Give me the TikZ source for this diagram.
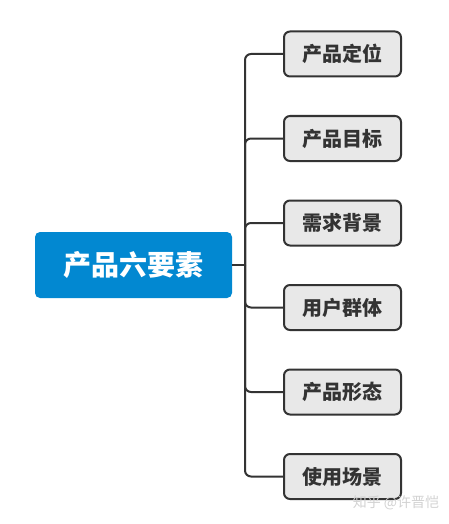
\documentclass[tikz,border=0pt]{standalone}
\usepackage{fontspec}
\newfontfamily\cjk{Noto Sans CJK SC}
\usetikzlibrary{positioning}
\definecolor{rootBlue}{RGB}{2,136,209}
\definecolor{leafGray}{RGB}{232,232,232}
\definecolor{lineDark}{RGB}{51,51,51}

\begin{document}
\begin{tikzpicture}[x=1pt, y=-1pt,
    root/.style={fill=rootBlue, rounded corners=5pt, minimum width=197pt, minimum height=66pt,
      inner sep=0pt, text=white, font=\cjk\bfseries\fontsize{28}{28}\selectfont},
    leaf/.style={draw=lineDark, line width=2pt, fill=leafGray, rounded corners=6pt,
      minimum width=117pt, minimum height=45pt, inner sep=0pt, text=lineDark,
      font=\cjk\bfseries\fontsize{20}{20}\selectfont},
    link/.style={draw=lineDark, line width=2pt}]
  \useasboundingbox (0,0) rectangle (449,524);
  % Root topic
  \node[root] (root) at (133.5,265) {产品六要素};
  \coordinate (trunk) at (245,265);
  \draw[link] (root.east) -- (trunk);
  % Subtopics and branches
  \foreach \name [count=\i] in {产品定位,产品目标,需求背景,用户群体,产品形态,使用场景} {
    \node[leaf] (leaf\i) at (342.5,{54+84.5*(\i-1)}) {\name};
    \draw[link, rounded corners=6pt] (trunk) |- (leaf\i.west);
  }
  % Watermark
  \node[text=gray!35, font=\cjk\fontsize{14}{14}\selectfont] (mark) at (396,503) {知乎 @许晋恺};
\end{tikzpicture}
\end{document}
